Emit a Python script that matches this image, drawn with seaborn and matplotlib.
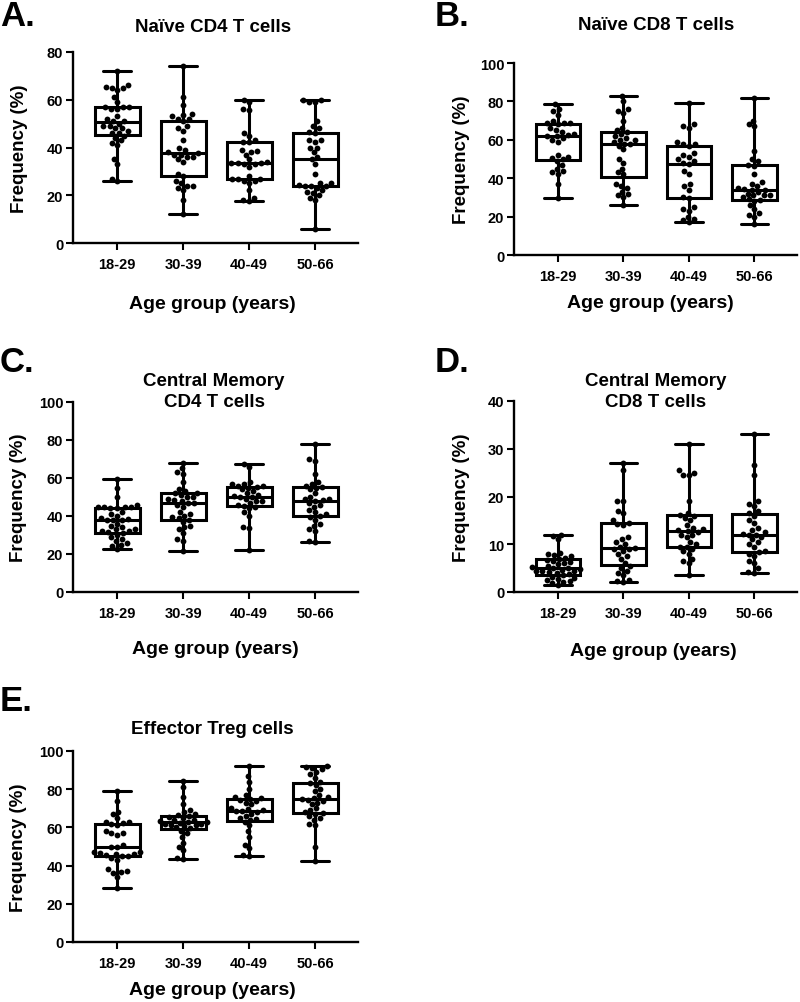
import matplotlib
matplotlib.use("Agg")
import matplotlib.pyplot as plt
import seaborn as sns
import pandas as pd

sns.set_style("ticks")
plt.rcParams['font.family'] = ['Liberation Sans', 'DejaVu Sans']
plt.rcParams['font.weight'] = 'bold'
for k in ['text.color', 'axes.labelcolor', 'xtick.color', 'ytick.color', 'axes.edgecolor']:
    plt.rcParams[k] = 'black'

groups = ["18-29", "30-39", "40-49", "50-66"]

# Panel A: Naive CD4 T cells
naive_cd4_18_29 = [72, 66, 65.5, 65, 65, 64, 61, 59, 57, 57, 57, 56, 56, 53, 52, 51, 51, 50, 49, 49, 48, 48, 47, 46, 46, 45, 44, 43, 42, 41, 35, 33, 27, 26]
naive_cd4_30_39 = [74, 61, 58, 54, 53.5, 53, 52, 52, 51, 49, 48, 47, 43, 40, 39, 38, 37.5, 37, 37, 36, 36, 35, 34, 29, 28, 26, 25, 24, 24, 23, 22, 18, 12]
naive_cd4_40_49 = [60, 59, 56, 55.5, 46, 45, 43, 42.5, 42.5, 39, 38.5, 38, 37, 35, 34, 33.5, 33.5, 33.5, 33, 33, 32, 28, 27, 27, 27, 26, 26, 25, 22, 19, 18, 17.5]
naive_cd4_50_66 = [60, 60, 59, 59, 51, 49, 48, 46.5, 46, 43, 43, 42.5, 40, 40, 38, 36, 35, 33, 29, 25, 25, 24.5, 24, 24, 24, 23, 22, 21.5, 21, 20, 19, 18, 6]

# Panel B: Naive CD8 T cells
naive_cd8_18_29 = [78.5, 76, 75, 73, 70, 69, 68.5, 68.5, 68, 66, 65, 64, 63, 62.5, 62, 62, 61, 60, 59, 52, 51, 50.5, 50, 49, 47, 45, 44, 43, 42, 37, 29.5]
naive_cd8_30_39 = [83, 80, 76, 75, 74, 70, 66, 65, 64, 63, 62, 61, 60, 60, 59, 58, 58, 57, 55, 50, 48, 45, 43, 42, 37, 36, 35, 33, 32, 31, 30, 26]
naive_cd8_40_49 = [79, 68, 67, 66, 59, 58, 58, 57, 53, 52, 51, 50, 49, 48, 47.5, 44, 42, 37, 36, 34, 30, 29.5, 25, 24, 23, 20, 19, 18, 17]
naive_cd8_50_66 = [82, 70, 68, 67, 54, 50, 49, 47, 46.5, 42, 38, 37, 36, 35, 34.5, 34, 34, 33, 32, 31, 31, 31, 30, 29, 28.5, 28, 26, 24, 22, 21, 20, 16]

# Panel C: Central Memory CD4 T cells
cm_cd4_18_29 = [59.5, 55, 50, 46, 45, 45, 44.5, 44.5, 44, 44, 42, 41, 40, 39, 38.5, 38, 38, 38, 36, 35, 34, 33, 33, 32, 32, 31.5, 31, 30, 29, 28, 27, 26, 25, 24, 22.5]
cm_cd4_30_39 = [68, 65, 63, 62, 58, 54, 53, 52, 52, 51, 50, 50, 49, 48.5, 48, 47, 47, 46, 45, 42, 41, 40, 39.5, 39, 38, 37, 35, 34, 33, 31, 28, 27, 21.5]
cm_cd4_40_49 = [67.5, 66, 58, 57, 57, 56, 56, 55.5, 55, 54, 53, 52, 51, 50.5, 50, 50, 49, 48, 48, 47, 46, 45.5, 45, 44, 42, 40, 34, 33.5, 22]
cm_cd4_50_66 = [78, 70, 69, 62, 58, 57, 56, 55.5, 55, 54, 52, 50, 49, 49, 48.5, 48, 47, 46, 45, 43, 42, 41, 40, 39.5, 38, 36, 35, 33, 32, 27, 26.5]

# Panel D: Central Memory CD8 T cells
cm_cd8_18_29 = [12, 11.8, 11, 8.2, 8, 7.8, 7.5, 7.2, 7, 6.8, 6.5, 6.2, 6, 5.8, 5.5, 5.2, 5, 5, 4.8, 4.7, 4.5, 4.5, 4.3, 4.2, 4, 3.8, 3.5, 3.2, 3, 2.8, 2.5, 2.2, 2, 1.8, 1.5]
cm_cd8_30_39 = [27, 25.5, 19, 19, 17, 16.5, 15, 14.5, 14.2, 14, 11.5, 11, 10.5, 10, 9.5, 9.3, 9, 9, 8.5, 8, 7.5, 7, 6, 5.5, 5, 4.5, 4, 3.5, 2.5, 2.2, 2]
cm_cd8_40_49 = [31, 25.5, 25, 24.5, 24.5, 19, 16.5, 16.2, 16, 15.5, 15, 14, 13.5, 13.2, 13, 12.8, 12.5, 12, 12, 11.5, 10.5, 10, 9.5, 9.5, 9, 8.5, 8, 7, 6.5, 6, 3.5]
cm_cd8_50_66 = [33, 26.5, 24.5, 19, 18.5, 18, 17, 16.5, 16, 15, 14.5, 13.5, 13, 12.5, 12.2, 12, 12, 11.5, 11, 10.5, 10, 9.5, 8.5, 8.3, 8, 7.5, 6.5, 6, 5, 4.2, 4]

# Panel E: Effector Treg cells
treg_18_29 = [79, 74, 68, 67, 65, 63, 63, 62.5, 62, 61, 58, 57, 57, 56, 51, 50, 50, 47, 47, 46.5, 46, 46, 45.5, 45, 45, 44, 43, 38, 37, 36.5, 36, 34, 28.5]
treg_30_39 = [84.5, 81, 76, 72, 69, 68, 67, 66.5, 66, 65.5, 65, 64, 64, 63.5, 63, 63, 62.5, 62, 62, 61.5, 61, 60.5, 60, 59.5, 58, 57, 55, 52, 50, 48, 44, 43.5]
treg_40_49 = [92, 87, 84, 80, 77, 76, 75.5, 75, 74.5, 74, 73, 72, 70, 69.5, 69, 68.5, 68.5, 68, 67, 66, 65, 64.5, 64, 63, 61, 58, 55, 51, 49, 45.5, 45]
treg_50_66 = [92, 91.5, 91, 90.5, 89, 88, 86, 84, 83, 82, 80, 79, 77, 76, 75.5, 75, 74.5, 74, 73, 72, 70, 69, 68, 67.5, 67, 66, 65, 64, 62, 61, 50, 42.5]

panel_titles = ["Naïve CD4 T cells", "Naïve CD8 T cells", "Central Memory\nCD4 T cells",
                "Central Memory\nCD8 T cells", "Effector Treg cells"]
panel_letters = ["A.", "B.", "C.", "D.", "E."]
panel_data = [
    [naive_cd4_18_29, naive_cd4_30_39, naive_cd4_40_49, naive_cd4_50_66],
    [naive_cd8_18_29, naive_cd8_30_39, naive_cd8_40_49, naive_cd8_50_66],
    [cm_cd4_18_29, cm_cd4_30_39, cm_cd4_40_49, cm_cd4_50_66],
    [cm_cd8_18_29, cm_cd8_30_39, cm_cd8_40_49, cm_cd8_50_66],
    [treg_18_29, treg_30_39, treg_40_49, treg_50_66],
]
y_max = [80, 100, 100, 40, 100]
y_step = [20, 20, 20, 10, 20]
x_label = "Age group (years)"
y_label = "Frequency (%)"

W, H = 800, 1003
fig = plt.figure(figsize=(W / 100, H / 100), dpi=100)

# pixel layouts: (left, right, top, bottom)
boxes_px = [(73, 358, 53, 244), (514, 797, 64, 256), (73, 358, 403, 593),
            (514, 797, 402, 593), (73, 358, 752, 943)]
title_px = [(213, 27), (656, 25), (214, 392), (656, 392), (212, 730)]
letter_px = [(0, 17), (435, 17), (0, 363), (435, 363), (0, 702)]
xlabel_px = [(212, 305), (650, 304), (215, 650), (653, 652), (212, 991)]
ylabel_x = [20, 462, 19, 462, 19]

for i in range(5):
    l, r, t, b = boxes_px[i]
    ax = fig.add_axes([l / W, 1 - b / H, (r - l) / W, (b - t) / H])
    rows = []
    for g, vals in zip(groups, panel_data[i]):
        for v in vals:
            rows.append({"group": g, "value": v})
    df = pd.DataFrame(rows)
    sns.boxplot(data=df, x="group", y="value", order=groups, whis=(0, 100),
                width=0.68, showfliers=False, color="white", linecolor="black",
                linewidth=2.2, capwidths=0.42, ax=ax, zorder=1)
    sns.swarmplot(data=df, x="group", y="value", order=groups, color="black",
                  size=4.2, ax=ax, zorder=3)
    ax.set_xlim(-0.67, 3.65)
    ax.set_ylim(0, y_max[i])
    ax.set_yticks(range(0, y_max[i] + 1, y_step[i]))
    ax.set_xlabel("")
    ax.set_ylabel("")
    for s in ["top", "right"]:
        ax.spines[s].set_visible(False)
    for s in ["left", "bottom"]:
        ax.spines[s].set_linewidth(1.7)
    ax.tick_params(axis="both", length=5, width=1.5, labelsize=10.5, pad=2)
    ax.tick_params(axis="x", pad=5)
    for lab in ax.get_xticklabels() + ax.get_yticklabels():
        lab.set_fontweight("bold")
    ax.patch.set_alpha(0)

    cy = (t + b) / 2
    fig.text(ylabel_x[i] / W, 1 - cy / H, y_label, rotation=90, ha="center",
             va="center", fontsize=13.5, fontweight="bold")
    fig.text(xlabel_px[i][0] / W, 1 - xlabel_px[i][1] / H, x_label, ha="center",
             va="center", fontsize=14, fontweight="bold")
    fig.text(title_px[i][0] / W, 1 - title_px[i][1] / H, panel_titles[i], ha="center",
             va="center", fontsize=13.5, fontweight="bold", linespacing=1.3)
    fig.text(letter_px[i][0] / W, 1 - letter_px[i][1] / H, panel_letters[i], ha="left",
             va="center", fontsize=25, fontweight="bold")

fig.savefig("out.png", dpi=100)
